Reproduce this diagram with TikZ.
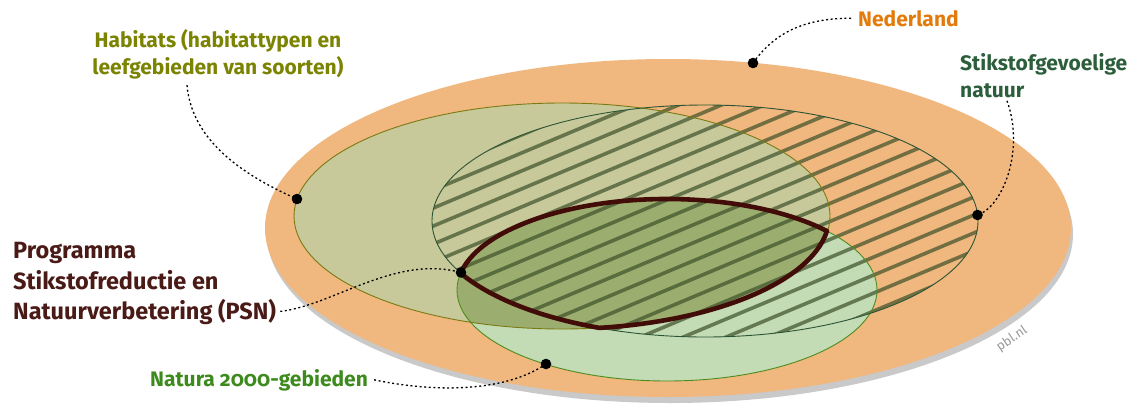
\documentclass[tikz,border=0pt]{standalone}
\usepackage{fontspec}
\setmainfont{Fira Sans}
\usetikzlibrary{calc}
\definecolor{pblOrange}{HTML}{F0B77F}
\definecolor{pblShadow}{HTML}{C9C9C9}
\definecolor{pblHabitat}{HTML}{C8C99B}
\definecolor{pblHabitatLine}{HTML}{7B7B12}
\definecolor{pblNatura}{HTML}{C3DCB5}
\definecolor{pblNaturaLine}{HTML}{4E8B1F}
\definecolor{pblOverlap}{HTML}{9CAE6F}
\definecolor{pblStikLine}{HTML}{2B5434}
\definecolor{pblHatch}{HTML}{3C5028}
\definecolor{pblBrown}{HTML}{420D08}
\definecolor{pblOrangeText}{HTML}{E37B0B}
\definecolor{pblHabitatText}{HTML}{7B8300}
\definecolor{pblStikText}{HTML}{2C5E3C}
\definecolor{pblBrownText}{HTML}{4A1A16}
\definecolor{pblNaturaText}{HTML}{3D8B1D}
\definecolor{pblGrey}{HTML}{9A9A9A}
\begin{document}
\begin{tikzpicture}[x=1pt,y=-1pt,line cap=round,line join=round]
\useasboundingbox[fill=white] (0,0) rectangle (1137,405);
\tikzset{callout/.style={draw=black,line width=1.3pt,dash pattern=on 2pt off 2.6pt,line cap=butt},dotmark/.style={fill=black},lbl/.style={font=\bfseries\fontsize{21}{27}\selectfont,inner sep=0pt},hatchline/.style={draw=pblHatch,line width=3.6pt,opacity=.7,line cap=butt},rim/.style={line width=.9pt}}
% disc and areas
\path[fill=pblShadow] (670,234) ellipse [x radius=403,y radius=169];
\path[fill=pblOrange] (668,228) ellipse [x radius=403,y radius=169];
\path[fill=pblHabitat] (562,216) ellipse [x radius=268,y radius=113];
\path[fill=pblNatura] (667,290) ellipse [x radius=210,y radius=91];
\begin{scope}
\clip (562,216) ellipse [x radius=268,y radius=113];
\path[fill=pblOverlap] (667,290) ellipse [x radius=210,y radius=91];
\end{scope}
\begin{scope}
\clip (705,221) ellipse [x radius=273,y radius=116];
\foreach \c in {282,300,...,790} \draw[hatchline] (420,{\c-176.4}) -- (990,{\c-415.8});
\end{scope}
\draw[rim,draw=pblHabitatLine] (562,216) ellipse [x radius=268,y radius=113];
\draw[rim,draw=pblNaturaLine] (667,290) ellipse [x radius=210,y radius=91];
\draw[rim,draw=pblStikLine] (705,221) ellipse [x radius=273,y radius=116];
% PSN outline
\draw[draw=pblBrown,line width=4.6pt] (667,290) ++(191.1:210 and 91) arc[start angle=191.1,end angle=319.6,x radius=210,y radius=91] arc[start angle=7.63,end angle=81.85,x radius=268,y radius=113] arc[start angle=112.6,end angle=153.4,x radius=273,y radius=116] -- cycle;
% dots
\coordinate (nlDot) at (753,63);
\coordinate (hbDot) at (297,199);
\coordinate (snDot) at (977.5,215);
\coordinate (psnDot) at (461,272.5);
\coordinate (n2Dot) at (546,364);
\foreach \d in {nlDot,hbDot,snDot,psnDot,n2Dot} \fill[dotmark] (\d) circle [radius=5.3];
% labels
\node[lbl,text=pblOrangeText,anchor=base west] (nederland) at (858,26) {Nederland};
\node[lbl,text=pblHabitatText,align=center,anchor=north] (habitats) at (218,29) {Habitats (habitattypen en\\leefgebieden van soorten)};
\node[lbl,text=pblStikText,align=left,anchor=north west] (stikstof) at (960,53) {Stikstofgevoelige\\natuur};
\node[lbl,text=pblBrownText,align=left,anchor=north west,font=\bfseries\fontsize{23.5}{30.5}\selectfont] (psn) at (13,242.5) {Programma\\Stikstofreductie en\\Natuurverbetering (PSN)};
\node[lbl,text=pblNaturaText,anchor=base west] (natura) at (150,386) {Natura {\addfontfeature{Numbers=OldStyle}2000}-gebieden};
\node[text=pblGrey,rotate=34,inner sep=0pt,font=\fontsize{13}{15}\selectfont] (pbl) at (1012,339) {pbl.nl};
% callouts
\draw[callout] ($(nederland.west)+(-7,0)$) .. controls +(-50,0) and +(20,-28) .. (nlDot);
\draw[callout] ($(habitats.south)+(-31,6)$) .. controls +(5,60) and +(-45,-20) .. (hbDot);
\draw[callout] ($(stikstof.south west)+(47,3)$) .. controls +(18,50) and +(25,-8) .. (snDot);
\draw[callout] ($(psn.south east)+(4,-14)$) .. controls +(53,-6) and +(-66,-18) .. (psnDot);
\draw[callout] ($(natura.east)+(6,0)$) .. controls +(62,13) and +(-41,28) .. (n2Dot);
\end{tikzpicture}
\end{document}
